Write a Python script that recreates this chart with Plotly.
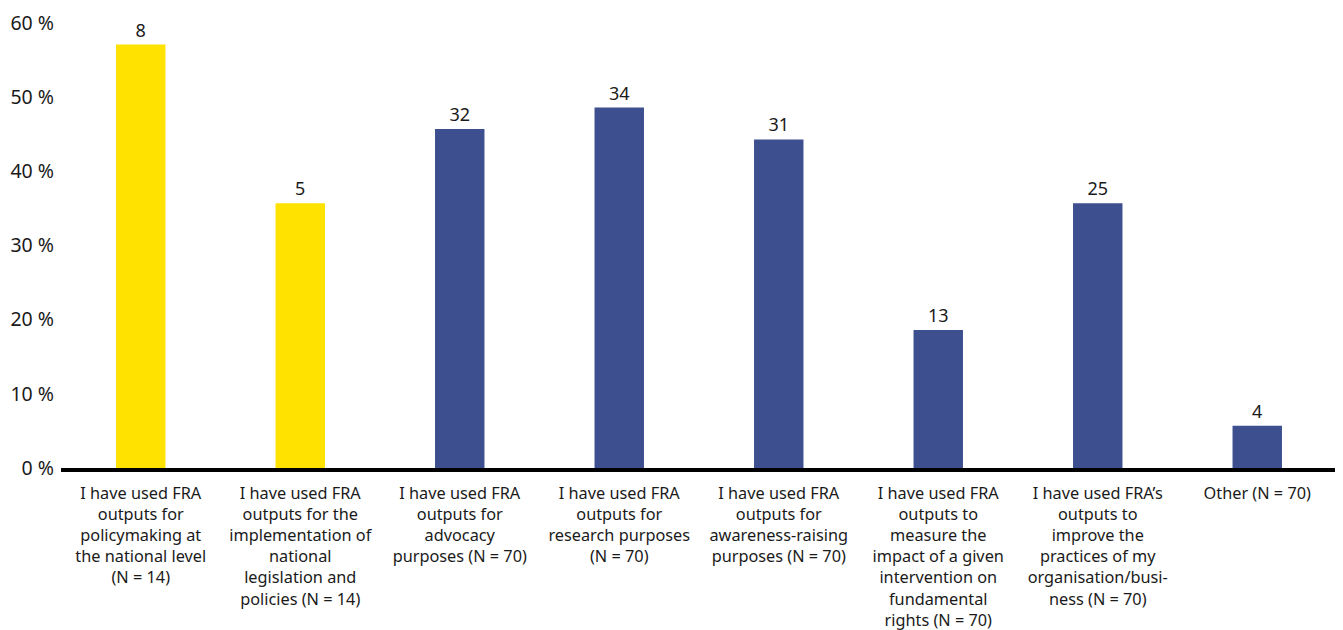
import plotly.graph_objects as go

categories = [
    "I have used FRA<br>outputs for<br>policymaking at<br>the national level<br>(N = 14)",
    "I have used FRA<br>outputs for the<br>implementation of<br>national<br>legislation and<br>policies (N = 14)",
    "I have used FRA<br>outputs for<br>advocacy<br>purposes (N = 70)",
    "I have used FRA<br>outputs for<br>research purposes<br>(N = 70)",
    "I have used FRA<br>outputs for<br>awareness-raising<br>purposes (N = 70)",
    "I have used FRA<br>outputs to<br>measure the<br>impact of a given<br>intervention on<br>fundamental<br>rights (N = 70)",
    "I have used FRA’s<br>outputs to<br>improve the<br>practices of my<br>organisation/busi-<br>ness (N = 70)",
    "Other (N = 70)",
]
percent_values = [57.1, 35.7, 45.7, 48.6, 44.3, 18.6, 35.7, 5.7]
count_labels = ["8", "5", "32", "34", "31", "13", "25", "4"]
bar_colors = ["#FFE200", "#FFE200", "#3D4F8F", "#3D4F8F", "#3D4F8F", "#3D4F8F", "#3D4F8F", "#3D4F8F"]
y_ticks = [0, 10, 20, 30, 40, 50, 60]

font_family = "Noto Sans, Open Sans, sans-serif"

fig = go.Figure(
    go.Bar(
        x=list(range(len(categories))),
        y=percent_values,
        text=count_labels,
        textposition="outside",
        textfont=dict(size=18, color="#1a1a1a", family=font_family),
        marker=dict(color=bar_colors, line=dict(width=0)),
        cliponaxis=False,
        hoverinfo="skip",
    )
)

fig.update_layout(
    width=1335,
    height=622,
    margin=dict(l=53, r=6, t=15, b=162),
    plot_bgcolor="white",
    paper_bgcolor="white",
    bargap=0.69,
    showlegend=False,
    font=dict(family=font_family, color="#1a1a1a"),
)

fig.update_xaxes(
    tickmode="array",
    tickvals=list(range(len(categories))),
    ticktext=categories,
    tickangle=0,
    tickfont=dict(size=16.3, color="#1a1a1a"),
    showline=True,
    linecolor="black",
    linewidth=4,
    ticks="outside",
    ticklen=7,
    tickcolor="rgba(0,0,0,0)",
    showgrid=False,
    range=[-0.5, 7.5],
    automargin=False,
)

fig.update_yaxes(
    range=[0, 60],
    tickmode="array",
    tickvals=y_ticks,
    ticktext=[f"{v} %" for v in y_ticks],
    tickfont=dict(size=19.5, color="#1a1a1a"),
    ticklabeloverflow="allow",
    ticklabelstandoff=6,
    showgrid=False,
    zeroline=False,
    showline=False,
    ticks="",
    automargin=False,
)

fig.write_html("out.html")
